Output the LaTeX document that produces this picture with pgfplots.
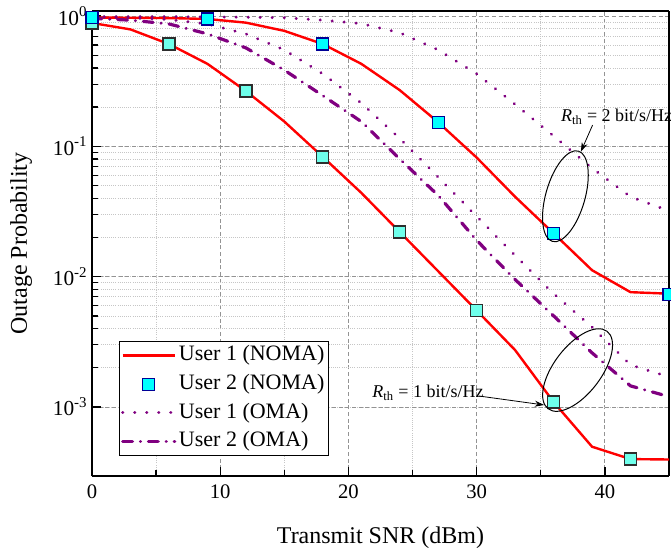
\documentclass[border=0pt]{standalone}
\usepackage{fontspec}
\setmainfont{Liberation Serif}
\usepackage{pgfplots}
\pgfplotsset{compat=1.18}
\usetikzlibrary{arrows.meta,shapes.geometric}
\definecolor{omapurple}{RGB}{128,0,128}
\definecolor{mkfill}{RGB}{0,255,255}
\definecolor{mkdraw}{RGB}{0,0,150}
\definecolor{mkfillb}{RGB}{110,255,235}
\definecolor{mkdrawb}{RGB}{45,45,45}
\pgfplotsset{marklegend/.style={legend image code/.code={\draw[##1] plot coordinates {(19.5pt,0pt)};}}}
\begin{document}
\begin{tikzpicture}
\begin{axis}[
 name=ax,
 scale only axis, width=432.75pt, height=349pt,
 ymode=log, xmin=0, xmax=45, ymin=2.95e-4, ymax=1.1,
 xtick={0,10,20,30,40}, minor x tick num=1,
 ytick={1e-3,1e-2,1e-1,1},
 yticklabels={10\textsuperscript{-3},10\textsuperscript{-2},10\textsuperscript{-1},10\textsuperscript{0}},
 /pgf/number format/assume math mode=true,
 tick align=inside, xtick pos=left, ytick pos=left,
 major tick length=7pt, minor tick length=4.5pt,
 every tick/.style={black, line width=1pt},
 separate axis lines,
 axis line style={line width=1.6pt, black},
 grid=both,
 major grid style={gray!85, dash pattern=on 3pt off 2pt, line width=0.6pt},
 minor grid style={gray!45, dash pattern=on 0.6pt off 1pt, line width=0.5pt},
 xticklabel style={font=\fontsize{15.5pt}{18pt}\selectfont, yshift=-3pt},
 yticklabel style={font=\fontsize{16pt}{18pt}\selectfont},
 xlabel={Transmit SNR (dBm)},
 xlabel style={at={(axis description cs:0.5,-0.144)}, anchor=base, inner sep=0pt, font=\fontsize{18pt}{20pt}\selectfont},
 ylabel={Outage Probability},
 ylabel style={at={(axis description cs:-0.113,0.5)}, anchor=base, inner sep=0pt, font=\fontsize{18pt}{20pt}\selectfont},
 clip mode=individual,
 legend cell align=left,
 legend style={at={(0.0473,0.043)}, anchor=south west, draw=black, line width=0.75pt, fill=white, inner sep=1pt,
   font=\fontsize{16.5pt}{19pt}\selectfont, row sep=2.5pt,
   nodes={inner ysep=2pt, inner xsep=2pt, text height=11.5pt, text depth=3.5pt}},
 legend image code/.code={\draw[#1] (0pt,0pt) -- (39pt,0pt);},
]
% User 1 NOMA, Rth = 1
\addplot[red, line width=1.8pt, forget plot] coordinates {
(0,0.885) (3,0.79) (6,0.61) (9,0.43) (12,0.266) (15,0.155) (18,0.083) (21,0.044)
(24,0.022) (27,0.011) (30,0.0055) (33,0.00273) (36,0.00109) (39,0.000495) (42,0.000398) (45,0.000395)};
% Rth = 2
\addplot[red, line width=1.8pt, forget plot] coordinates {
(0,0.975) (3,0.97) (6,0.965) (9,0.95) (12,0.89) (15,0.77) (18,0.61) (21,0.43)
(24,0.27) (27,0.153) (30,0.082) (33,0.041) (36,0.0215) (39,0.0112) (42,0.0076) (45,0.0074)};
% OMA User 1, Rth = 2
\addplot[omapurple, line width=2.4pt, line cap=round, dash pattern=on 0.01pt off 9pt, forget plot] coordinates {
(0,0.99) (3,0.99) (6,0.99) (9,0.985) (12,0.98) (15,0.97) (18,0.93) (21,0.875)
(24,0.745) (27,0.55) (30,0.36) (33,0.21) (36,0.12) (39,0.068) (42,0.041) (45,0.032)};
% OMA User 1, Rth = 1
\addplot[omapurple, line width=2.4pt, line cap=round, dash pattern=on 0.01pt off 9pt, forget plot] coordinates {
(0,0.98) (3,0.97) (6,0.94) (9,0.87) (12,0.73) (15,0.55) (18,0.36) (21,0.215)
(24,0.115) (27,0.058) (30,0.029) (33,0.0145) (36,0.0074) (39,0.0041) (42,0.0021) (45,0.0017)};
% OMA User 2
\addplot[omapurple, line width=2.4pt, line cap=round, dash pattern=on 7.3pt off 6pt on 0.01pt off 6pt, forget plot] coordinates {
(0,0.96) (3,0.93) (6,0.87) (9,0.73) (12,0.57) (15,0.385) (18,0.245) (21,0.155)
(24,0.08) (27,0.042) (30,0.019) (33,0.0095) (36,0.005) (39,0.0026) (42,0.00145) (45,0.0012)};
% NOMA User 2 markers
\addplot[only marks, mark=square*, mark size=4.5pt, mark options={fill=mkfillb, draw=mkdrawb, line width=1pt, solid}, forget plot] coordinates {
(0,0.885) (6,0.61) (12,0.266) (18,0.083) (24,0.022) (30,0.0055) (36,0.00109) (42,0.000398)};
\addplot[only marks, mark=square*, mark size=4.5pt, mark options={fill=mkfill, draw=mkdraw, line width=1pt, solid}, forget plot] coordinates {
(0,0.98) (9,0.95) (18,0.61) (27,0.153) (36,0.0215) (45,0.0073)};

\addlegendimage{red, line width=1.8pt}
\addlegendentry{User 1 (NOMA)}
\addlegendimage{only marks, mark=square*, mark size=4.5pt, mark options={fill=mkfill, draw=mkdraw, line width=1pt, solid}, marklegend}
\addlegendentry{User 2 (NOMA)}
\addlegendimage{omapurple, line width=2.4pt, line cap=round, dash pattern=on 0.01pt off 9pt}
\addlegendentry{User 1 (OMA)}
\addlegendimage{omapurple, line width=2.4pt, line cap=round, dash pattern=on 7.3pt off 6pt on 0.01pt off 6pt}
\addlegendentry{User 2 (OMA)}

\node[anchor=base west, inner sep=0pt, font=\fontsize{13.5pt}{16pt}\selectfont] at (axis cs:36.56,0.1545) {{\itshape R}\textsubscript{th} = 2 bit/s/Hz};
\draw[-{Stealth[length=7pt,width=4.5pt]}, line width=0.6pt] (axis cs:39.04,0.1457) -- (axis cs:38.125,0.0909);
\node[draw, ellipse, rotate=74, minimum width=70.5pt, minimum height=29.4pt, inner sep=0pt, line width=0.75pt] at (axis cs:36.92,0.0414) {};

\node[anchor=base west, inner sep=0pt, font=\fontsize{13.5pt}{16pt}\selectfont] at (axis cs:21.85,0.001177) {{\itshape R}\textsubscript{th} = 1 bit/s/Hz};
\draw[-{Stealth[length=7pt,width=4.5pt]}, line width=0.6pt] (axis cs:30.18,0.001213) -- (axis cs:35.26,0.001035);
\node[draw, ellipse, rotate=52.7, minimum width=73pt, minimum height=35.4pt, inner sep=0pt, line width=0.75pt] at (axis cs:37.87,0.00192) {};
\end{axis}
\pgfresetboundingbox
\path[use as bounding box] ([shift={(-69pt,-53.25pt)}]ax.south west) rectangle ([shift={(1.5pt,8pt)}]ax.north east);
\end{tikzpicture}
\end{document}
